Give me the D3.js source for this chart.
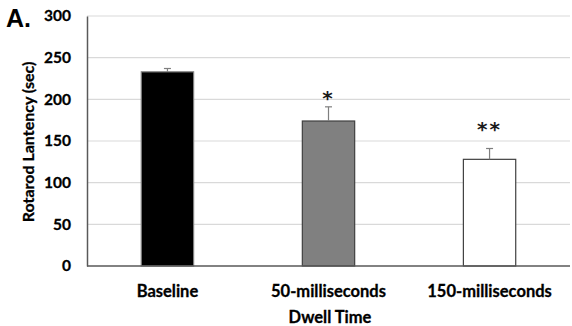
<!DOCTYPE html>
<html><head><meta charset="utf-8">
<script src="https://cdn.jsdelivr.net/npm/d3@7"></script>
<style>body{margin:0;background:#fff}svg{display:block}</style>
</head><body>
<script>
const categories = ["Baseline", "50-milliseconds", "150-milliseconds"];
const values = [233, 174, 128];
const errors = [4, 17, 13];
const significance = ["", "*", "**"];
const yTicks = [0, 50, 100, 150, 200, 250, 300];
const fills = ["#000000", "#808080", "#ffffff"];
const strokes = ["#7f7f7f", "#404040", "#404040"];

const W = 572, H = 326;
const m = {left: 87, right: 2, top: 16, bottom: 60};
const svg = d3.select("body").append("svg").attr("width", W).attr("height", H);
const x = d3.scaleBand().domain(categories).range([m.left, W - m.right]).paddingInner(0.675).paddingOuter(0.337);
const y = d3.scaleLinear().domain([0, 300]).range([H - m.bottom, m.top]);
const font = "Lato, 'Liberation Sans', sans-serif";

// gridlines
svg.append("g").selectAll("line").data(yTicks.filter(d => d > 0)).join("line")
  .attr("x1", m.left).attr("x2", W - m.right)
  .attr("y1", d => y(d)).attr("y2", d => y(d))
  .attr("stroke", "#d9d9d9").attr("stroke-width", 1.2);

// y axis
const ya = svg.append("g").attr("transform", `translate(${m.left},0)`)
  .call(d3.axisLeft(y).tickValues(yTicks).tickSize(0).tickPadding(16));
ya.select(".domain").attr("stroke", "#595959").attr("stroke-width", 1.5);
ya.selectAll("text").attr("font-family", font).attr("font-weight", "bold").attr("font-size", 15.5)
  .attr("fill", "#000").attr("stroke", "#000").attr("stroke-width", 0.3);

// bars
svg.append("g").selectAll("rect").data(values).join("rect")
  .attr("x", (d, i) => x(categories[i])).attr("width", x.bandwidth())
  .attr("y", d => y(d)).attr("height", d => y(0) - y(d))
  .attr("fill", (d, i) => fills[i]).attr("stroke", (d, i) => strokes[i]).attr("stroke-width", 1.2);

// error bars
const eg = svg.append("g").attr("stroke", "#7f7f7f").attr("stroke-width", 1.2);
values.forEach((v, i) => {
  const cx = x(categories[i]) + x.bandwidth() / 2;
  eg.append("line").attr("x1", cx).attr("x2", cx).attr("y1", y(v)).attr("y2", y(v + errors[i]));
  eg.append("line").attr("x1", cx - 3.5).attr("x2", cx + 3.5).attr("y1", y(v + errors[i])).attr("y2", y(v + errors[i]));
});

// x axis baseline
svg.append("line").attr("x1", m.left).attr("x2", W - m.right).attr("y1", y(0)).attr("y2", y(0))
  .attr("stroke", "#595959").attr("stroke-width", 1.5);

// significance
svg.append("g").selectAll("text").data(significance).join("text")
  .attr("x", (d, i) => x(categories[i]) + x.bandwidth() / 2)
  .attr("y", (d, i) => y(values[i] + errors[i]) - 2 - (i === 2 ? 11 : 0))
  .attr("text-anchor", "middle").attr("font-family", "'DejaVu Sans', sans-serif").attr("font-size", 20)
  .attr("font-weight", "bold").attr("letter-spacing", 2).attr("fill", "#1a1a1a").text(d => d);

// x labels
svg.append("g").selectAll("text").data(categories).join("text")
  .attr("x", d => x(d) + x.bandwidth() / 2).attr("y", 297)
  .attr("text-anchor", "middle").attr("font-family", font).attr("font-weight", "bold").attr("font-size", 16.5)
  .attr("fill", "#000").attr("stroke", "#000").attr("stroke-width", 0.3).text(d => d);

svg.append("text").attr("x", 330).attr("y", 323).attr("text-anchor", "middle")
  .attr("font-family", font).attr("font-weight", "bold").attr("font-size", 16.5)
  .attr("stroke", "#000").attr("stroke-width", 0.3).text("Dwell Time");

svg.append("text").attr("transform", "translate(34,142) rotate(-90)").attr("text-anchor", "middle")
  .attr("font-family", font).attr("font-weight", "bold").attr("font-size", 16)
  .attr("stroke", "#000").attr("stroke-width", 0.3).text("Rotarod Lantency (sec)");

svg.append("text").attr("x", 6).attr("y", 27).attr("font-family", "'Liberation Sans', Arial, sans-serif")
  .attr("font-weight", "bold").attr("font-size", 25).text("A.");
</script>
</body></html>
